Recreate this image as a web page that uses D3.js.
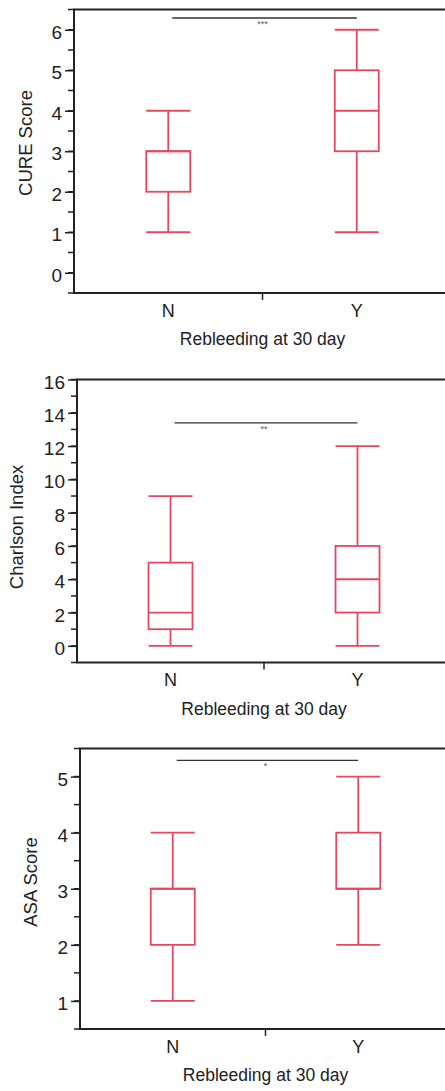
<!DOCTYPE html>
<html>
<head>
<meta charset="utf-8">
<script src="https://cdn.jsdelivr.net/npm/d3@7"></script>
<style>
  body { margin: 0; background: #fff; }
  svg { display: block; font-family: "Liberation Sans", Arial, sans-serif; }
</style>
</head>
<body>
<div id="chart"></div>
<script>
var width = 445;
var height = 1091;
var red = "#e6475f";

var groups = ["N", "Y"];
var xTitle = "Rebleeding at 30 day";

// box stats per group: [min, q1, median, q3, max]
var cureStats = [[1, 2, 3, 3, 4], [1, 3, 4, 5, 6]];
var charlsonStats = [[0, 1, 2, 5, 9], [0, 2, 4, 6, 12]];
var asaStats = [[1, 2, 3, 3, 4], [2, 3, 3, 4, 5]];

var cureTicks = [0, 1, 2, 3, 4, 5, 6];
var charlsonTicks = [0, 2, 4, 6, 8, 10, 12, 14, 16];
var asaTicks = [1, 2, 3, 4, 5];

var panels = [
    {title: "CURE Score", stats: cureStats, ticks: cureTicks, domain: [-0.5, 6.5], minorStep: 0.5,
     sig: "***", sigY: 6.29, top: 9.5, bottom: 293, left: 74, titleX: 26, titleY: 143},
    {title: "Charlson Index", stats: charlsonStats, ticks: charlsonTicks, domain: [-1, 16], minorStep: 1,
     sig: "**", sigY: 13.4, top: 379.5, bottom: 662.5, left: 77, titleX: 17, titleY: 527},
    {title: "ASA Score", stats: asaStats, ticks: asaTicks, domain: [0.5, 5.5], minorStep: 0.5,
     sig: "*", sigY: 5.29, top: 748.5, bottom: 1029, left: 80, titleX: 31, titleY: 882}
];

var svg = d3.select("#chart").append("svg")
    .attr("width", width)
    .attr("height", height);

panels.forEach(function(p) {
    var right = 451;
    var x = d3.scalePoint().domain(groups).range([p.left, right]).padding(0.5);
    var y = d3.scaleLinear().domain(p.domain).range([p.bottom, p.top]);
    var boxW = 44;

    var g = svg.append("g");

    // minor ticks (all steps), major ticks drawn by axis
    var minor = d3.range(p.domain[0], p.domain[1] + p.minorStep / 2, p.minorStep);
    g.selectAll("line.minor").data(minor).enter().append("line")
        .attr("class", "minor")
        .attr("x1", p.left - 6).attr("x2", p.left)
        .attr("y1", function(d) { return y(d); })
        .attr("y2", function(d) { return y(d); })
        .attr("stroke", "#222").attr("stroke-width", 1.5);

    var yAxis = d3.axisLeft(y).tickValues(p.ticks).tickSize(9).tickPadding(3).tickFormat(d3.format("d"));
    var ya = g.append("g")
        .attr("transform", "translate(" + p.left + ",0)")
        .call(yAxis);
    ya.select(".domain").remove();
    ya.selectAll(".tick line").attr("stroke", "#222").attr("stroke-width", 1.5);
    ya.selectAll(".tick text")
        .attr("font-size", "19px")
        .attr("fill", "#222")
        .attr("dy", "0.45em")
        .style("font-family", "'Liberation Sans', Arial, sans-serif");

    // frame: left, top, bottom
    g.append("path")
        .attr("d", "M" + right + "," + p.top + "H" + p.left + "V" + p.bottom + "H" + right)
        .attr("fill", "none").attr("stroke", "#222").attr("stroke-width", 2);

    // middle x tick
    var mid = (x("N") + x("Y")) / 2;
    g.append("line")
        .attr("x1", mid).attr("x2", mid)
        .attr("y1", p.bottom).attr("y2", p.bottom + 7)
        .attr("stroke", "#222").attr("stroke-width", 1.5);

    // x labels
    g.selectAll("text.xlab").data(groups).enter().append("text")
        .attr("class", "xlab")
        .attr("x", function(d) { return x(d); })
        .attr("y", p.bottom + 23.5)
        .attr("text-anchor", "middle")
        .attr("font-size", "18px")
        .attr("fill", "#222")
        .text(function(d) { return d; });

    g.append("text")
        .attr("x", mid)
        .attr("y", p.bottom + 52)
        .attr("text-anchor", "middle")
        .attr("font-size", "17.5px")
        .attr("fill", "#222")
        .text(xTitle);

    g.append("text")
        .attr("transform", "translate(" + p.titleX + "," + p.titleY + ") rotate(-90)")
        .attr("dy", "0.35em")
        .attr("text-anchor", "middle")
        .attr("font-size", "18.5px")
        .attr("fill", "#222")
        .text(p.title);

    // boxes
    var box = g.selectAll("g.box").data(p.stats).enter().append("g").attr("class", "box")
        .attr("fill", "none").attr("stroke", red).attr("stroke-width", 1.8);
    box.each(function(s, i) {
        var b = d3.select(this);
        var cx = x(groups[i]);
        b.append("line").attr("x1", cx).attr("x2", cx).attr("y1", y(s[0])).attr("y2", y(s[1]));
        b.append("line").attr("x1", cx).attr("x2", cx).attr("y1", y(s[3])).attr("y2", y(s[4]));
        b.append("line").attr("x1", cx - boxW / 2).attr("x2", cx + boxW / 2).attr("y1", y(s[0])).attr("y2", y(s[0]));
        b.append("line").attr("x1", cx - boxW / 2).attr("x2", cx + boxW / 2).attr("y1", y(s[4])).attr("y2", y(s[4]));
        b.append("rect").attr("x", cx - boxW / 2).attr("width", boxW)
            .attr("y", y(s[3])).attr("height", y(s[1]) - y(s[3]));
        b.append("line").attr("x1", cx - boxW / 2).attr("x2", cx + boxW / 2).attr("y1", y(s[2])).attr("y2", y(s[2]));
    });

    // significance bar
    g.append("line")
        .attr("x1", x("N") + 4).attr("x2", x("Y"))
        .attr("y1", y(p.sigY)).attr("y2", y(p.sigY))
        .attr("stroke", "#333").attr("stroke-width", 1.3);
    g.append("text")
        .attr("x", mid)
        .attr("y", y(p.sigY) + 9)
        .attr("text-anchor", "middle")
        .attr("font-size", "9px")
        .attr("fill", "#555")
        .text(p.sig);
});
</script>
</body>
</html>
